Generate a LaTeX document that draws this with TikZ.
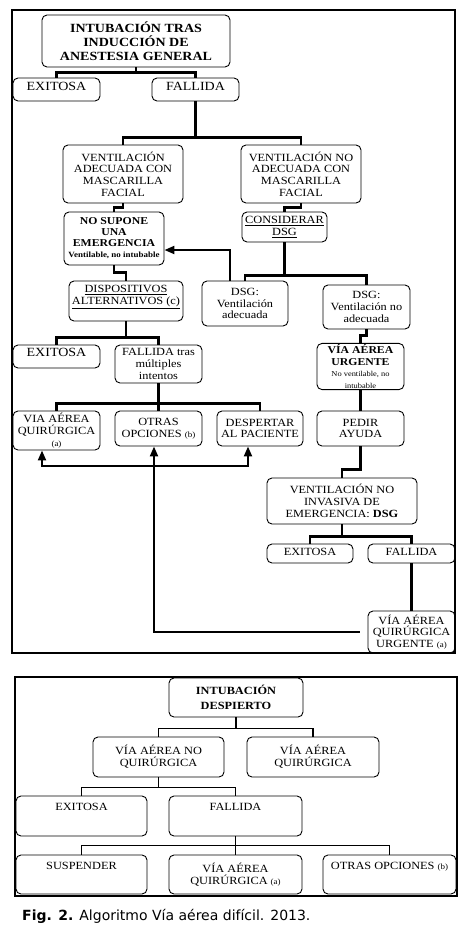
\documentclass[tikz,border=0pt]{standalone}
\usepackage{fontspec}
\setmainfont{Liberation Serif}[FakeStretch=1.12]
\newfontfamily\piefont{DejaVu Sans}
\usetikzlibrary{arrows.meta,positioning}
\newcommand{\pq}[1]{{\fontsize{8}{9}\selectfont #1}}
\newcommand{\mini}[1]{{\fontsize{7.5}{8.5}\selectfont #1}}

\begin{document}
\begin{tikzpicture}[x=1pt, y=-1pt,
  caja/.style={draw, rounded corners=5pt, line width=0.9pt, align=center,
    inner sep=1pt, font=\fontsize{11}{11.7}\selectfont},
  tam/.style 2 args={minimum width=#1pt, minimum height=#2pt},
  linea/.style={line width=2.1pt},
  flecha/.style={line width=2.1pt, -{Triangle[length=10pt,width=8pt]}},
  marco/.style={draw, line width=1.4pt}]

  \useasboundingbox (0,0) rectangle (467,932);

  % --- anestesia general
  \draw[marco] (12,10) rectangle (455,653);
  \node[caja, tam={188}{52}, font=\bfseries\fontsize{12.5}{14}\selectfont]
    (intub) at (136,41) {INTUBACIÓN TRAS\\INDUCCIÓN DE\\ANESTESIA GENERAL};
  \node[caja, tam={87}{23}, inner ysep=0pt, text height=12.5pt, text depth=10.5pt,
    font=\fontsize{12.5}{13}\selectfont] (exi1) at (56.5,89.5) {EXITOSA};
  \node[caja, tam={87}{23}, inner ysep=0pt, text height=12.5pt, text depth=10.5pt,
    font=\fontsize{12.5}{13}\selectfont] (fal1) at (195.5,89.5) {FALLIDA};
  \node[caja, tam={120}{58}] (ventA) at (123,174)
    {VENTILACIÓN\\ADECUADA CON\\MASCARILLA\\FACIAL};
  \node[caja, tam={120}{58}] (ventN) at (301,174)
    {VENTILACIÓN NO\\ADECUADA CON\\MASCARILLA\\FACIAL};
  \node[caja, tam={100}{53}, font=\bfseries\fontsize{10.5}{11}\selectfont]
    (nosup) at (114,238.5) {NO SUPONE\\UNA\\EMERGENCIA\\\pq{Ventilable, no intubable}};
  \node[caja, tam={85}{30}] (consid) at (284.5,227)
    {\underline{CONSIDERAR}\\\underline{DSG}};
  \node[caja, tam={86}{45}] (dsgA) at (245,303.5) {DSG:\\Ventilación\\adecuada};
  \node[caja, tam={87}{44}] (dsgN) at (366.5,307) {DSG:\\Ventilación no\\adecuada};
  \node[caja, tam={114}{40}] (dispo) at (126,301)
    {\underline{DISPOSITIVOS}\\\underline{ALTERNATIVOS (c)}\\\mbox{}};
  \node[caja, tam={87}{23}, inner ysep=0pt, text height=11.7pt, text depth=11.3pt,
    font=\fontsize{12.5}{13}\selectfont] (exi2) at (56.5,356.5) {EXITOSA};
  \node[caja, tam={87}{38}] (falm) at (158.5,364) {FALLIDA tras\\múltiples\\intentos};
  \node[caja, tam={87}{39}] (vaq) at (56.5,430.5) {VIA AÉREA\\QUIRÚRGICA\\\pq{(a)}};
  \node[caja, tam={87}{35}] (otras) at (158.5,428.5) {OTRAS\\OPCIONES \pq{(b)}};
  \node[caja, tam={86}{35}] (desp) at (260,428.5) {DESPERTAR\\AL PACIENTE};
  \node[caja, tam={87}{43}] (vau) at (360.5,366.5)
    {\textbf{\fontsize{10.5}{11}\selectfont VÍA AÉREA}\\
     \textbf{\fontsize{10.5}{11}\selectfont URGENTE}\\\mini{No ventilable, no}\\\mini{intubable}};
  \node[caja, tam={87}{35}] (pedir) at (360.5,428.5) {PEDIR\\AYUDA};
  \node[caja, tam={150}{46}] (vni) at (342,501)
    {VENTILACIÓN NO\\INVASIVA DE\\EMERGENCIA: \textbf{DSG}};
  \node[caja, tam={86}{19}, inner ysep=0pt, text height=11pt, text depth=8pt]
    (exi3) at (310,553.5) {EXITOSA};
  \node[caja, tam={87}{19}, inner ysep=0pt, text height=11pt, text depth=8pt]
    (fal3) at (411.5,553.5) {FALLIDA};
  \node[caja, tam={87}{42}] (vqu) at (411.5,632) {VÍA AÉREA\\QUIRÚRGICA\\URGENTE \pq{(a)}};

  \draw[linea] (intub.south) -- ++(0,5) coordinate (b1);
  \draw[linea] (exi1.north) |- (b1) -| (fal1.north);
  \draw[linea] (fal1.south) -- ++(0,36) coordinate (b2);
  \draw[linea] (ventA.north) |- (b2) -| (ventN.north);
  \draw[linea] (ventA.south) -- ++(0,4) -| (nosup.north);
  \draw[linea] (ventN.south) -- ++(0,4) -| (consid.north);
  \draw[linea] (consid.south) -- ++(0,33) coordinate (b3);
  \draw[linea] (dsgA.north) |- (b3) -| (dsgN.north);
  \draw[flecha] ([xshift=-15pt]dsgA.north) |- ([yshift=-11.5pt]nosup.east);
  \draw[linea] (nosup.south) -- ++(0,7) -| (dispo.north);
  \draw[linea] (dispo.south) -- ++(0,16) coordinate (b4);
  \draw[linea] (exi2.north) |- (b4) -| (falm.north);
  \draw[linea] (falm.south) -- ++(0,20) coordinate (b5);
  \draw[linea] (vaq.north) |- (b5) -| (desp.north);
  \draw[linea] (b5) -- (otras.north);
  \draw[linea] (dsgN.south) -- ++(0,6) -| (vau.north);
  \draw[linea] (vau) -- (pedir);
  \draw[linea] (pedir.south) -- ++(0,23) -| (vni.north);
  \draw[linea] (vni.south) -- ++(0,12) coordinate (b6);
  \draw[linea] (exi3.north) |- (b6) -| (fal3.north);
  \draw[linea] (fal3) -- (vqu);
  \coordinate (b7) at (154,466);
  \draw[flecha, shorten <=8pt] (vqu.west) -| ([xshift=-4.5pt]otras.south);
  \draw[flecha, {Triangle[length=10pt,width=8pt]}-{Triangle[length=10pt,width=8pt]}]
    ([xshift=-14.5pt]vaq.south) |- (b7) -| ([xshift=-12pt]desp.south);

  % --- intubacion despierto
  \draw[marco] (15,677) rectangle (457,896);
  \begin{scope}[every node/.append style={font=\fontsize{11}{14.3}\selectfont},
                linea/.append style={line width=1.7pt}]
    \node[caja, tam={134}{39}, font=\bfseries\fontsize{11}{15}\selectfont]
      (despi) at (236,697.5) {INTUBACIÓN\\DESPIERTO};
    \node[caja, tam={131}{40}] (vanq) at (158.5,757) {VÍA AÉREA NO\\QUIRÚRGICA};
    \node[caja, tam={132}{40}] (vaq2) at (313,757) {VÍA AÉREA\\QUIRÚRGICA};
    \node[caja, tam={131}{40}, inner ysep=0pt, text height=14pt, text depth=26pt]
      (exi4) at (81.5,816) {EXITOSA};
    \node[caja, tam={133}{40}, inner ysep=0pt, text height=14pt, text depth=26pt]
      (fal4) at (235.5,816) {FALLIDA};
    \node[caja, tam={131}{39}, inner ysep=0pt, text height=14.3pt, text depth=24.7pt]
      (susp) at (81.5,874.5) {SUSPENDER};
    \node[caja, tam={133}{39}] (vaq3) at (235.5,874.5) {VÍA AÉREA\\QUIRÚRGICA \pq{(a)}};
    \node[caja, tam={133}{39}, inner ysep=0pt, text height=14.3pt, text depth=24.7pt]
      (otras2) at (389.5,874.5) {OTRAS OPCIONES \pq{(b)}};

    \draw[linea] (despi.south) -- ++(0,11) coordinate (c1);
    \draw[linea] (vanq.north) |- (c1) -| (vaq2.north);
    \draw[linea] (vanq.south) -- ++(0,10) coordinate (c2);
    \draw[linea] (exi4.north) |- (c2) -| (fal4.north);
    \draw[linea] (fal4.south) -- ++(0,9) coordinate (c3);
    \draw[linea] (susp.north) |- (c3) -| (otras2.north);
    \draw[linea] (c3) -- (vaq3.north);
  \end{scope}

  \node[anchor=base west, inner sep=0pt, font=\piefont\fontsize{14}{16}\selectfont]
    (pie) at (22,920) {\textbf{Fig. 2.} Algoritmo Vía aérea difícil. 2013.};
\end{tikzpicture}
\end{document}
